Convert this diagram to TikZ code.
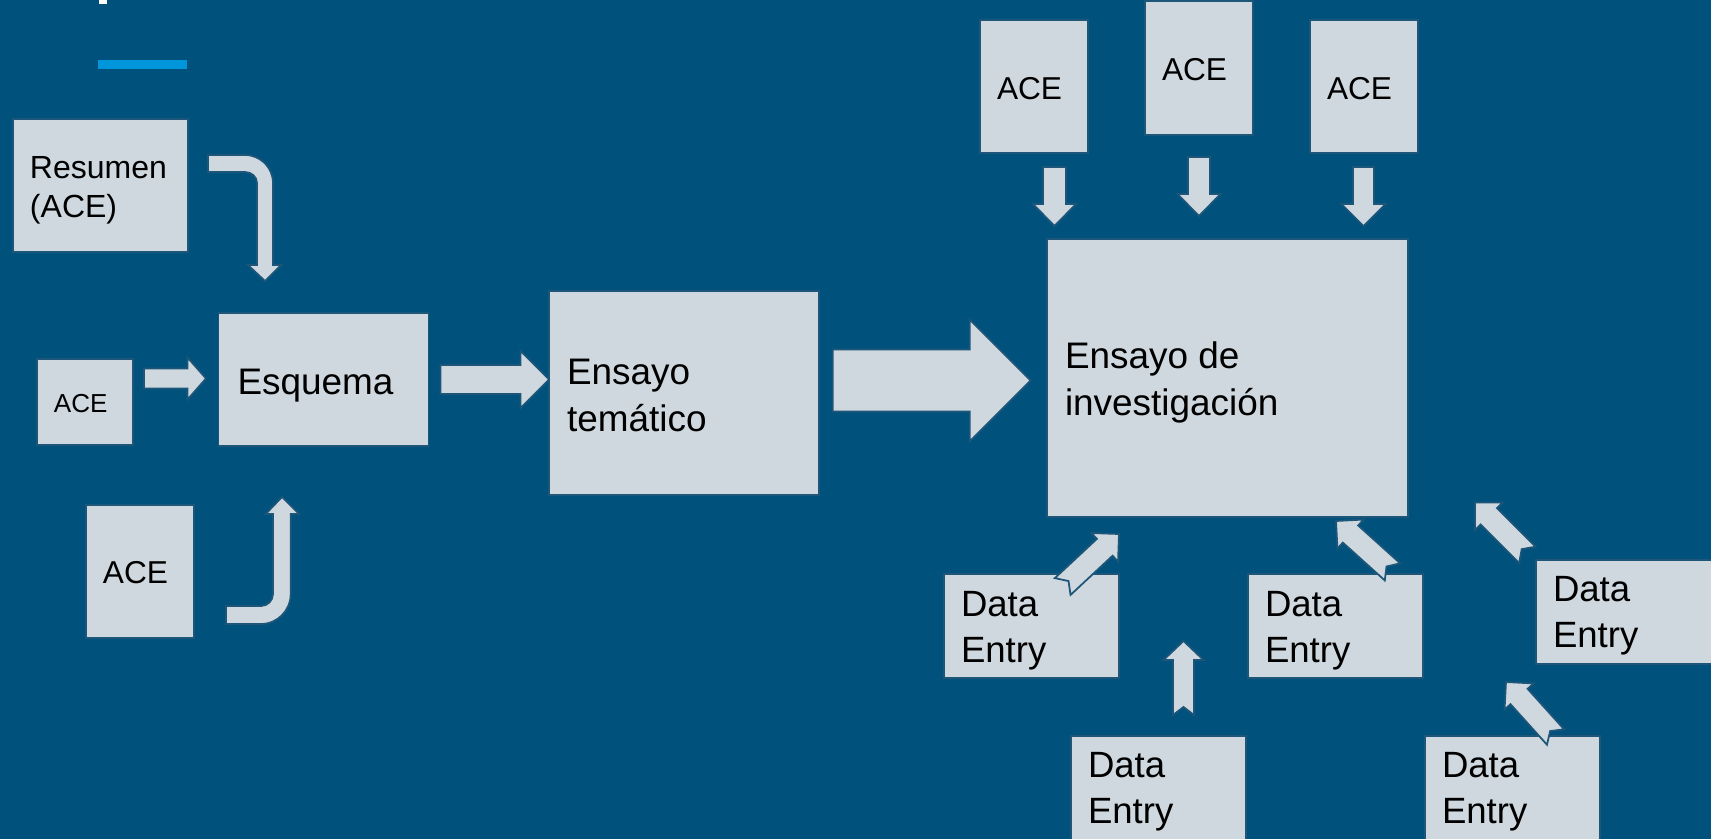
\documentclass[tikz,border=0pt]{standalone}
\usepackage{fontspec}
\setmainfont{Liberation Sans}
\definecolor{bg}{RGB}{0,82,124}
\definecolor{boxfill}{RGB}{207,216,222}
\definecolor{boxedge}{RGB}{30,86,122}
\definecolor{accent}{RGB}{0,150,220}
% tip x, tip y, angle, length, head length, head half width, shaft half width, notch depth
\newcommand\blkarrow[8]{%
  \begin{scope}[shift={(#1,#2)},rotate=#3]
    \filldraw[blk] (0,0) -- (-#5,#6) -- (-#5,#7) -- (-#4,#7) -- ({-#4+#8},0)
      -- (-#4,-#7) -- (-#5,-#7) -- (-#5,-#6) -- cycle;
  \end{scope}}
\begin{document}
\begin{tikzpicture}[x=0.01cm,y=-0.01cm,
  box/.style={draw=boxedge, line width=0.5pt, fill=boxfill, anchor=north west,
    inner sep=0pt, outer sep=0pt},
  blk/.style={draw=boxedge, line width=0.5pt, fill=boxfill},
  lbl/.style={anchor=base west, inner sep=0pt, outer sep=0pt, align=left, text=black},
  big/.style={lbl, font=\fontsize{10.5}{13.1}\selectfont},
  mid/.style={lbl, font=\fontsize{9}{11.1}\selectfont},
  dat/.style={lbl, font=\fontsize{10.4}{12.8}\selectfont},
]
\useasboundingbox (0,0) rectangle (1711,839);
\clip (0,0) rectangle (1711,839);
\fill[bg] (0,0) rectangle (1711,839);
\fill[white] (99,0) rectangle (107,4);
\fill[accent] (98,60) rectangle (187,69);

% boxes
\node[box, minimum width=175*0.01cm, minimum height=133*0.01cm] (res) at (13,119) {};
\node[box, minimum width=96*0.01cm, minimum height=86*0.01cm] (aceL) at (37,359) {};
\node[box, minimum width=210*0.01cm, minimum height=133*0.01cm] (esq) at (218.5,313) {};
\node[box, minimum width=108*0.01cm, minimum height=133*0.01cm] (aceB) at (86,505) {};
\node[box, minimum width=270*0.01cm, minimum height=204*0.01cm] (ens) at (549,291) {};
\node[box, minimum width=361*0.01cm, minimum height=278*0.01cm] (inv) at (1047,239) {};
\node[box, minimum width=108*0.01cm, minimum height=133*0.01cm] (ace1) at (980,20) {};
\node[box, minimum width=108*0.01cm, minimum height=134*0.01cm] (ace2) at (1145,1) {};
\node[box, minimum width=108*0.01cm, minimum height=133*0.01cm] (ace3) at (1310,20) {};
\node[box, minimum width=175*0.01cm, minimum height=104*0.01cm] (de1) at (944,574) {};
\node[box, minimum width=175*0.01cm, minimum height=104*0.01cm] (de2) at (1248,574) {};
\node[box, minimum width=190*0.01cm, minimum height=104*0.01cm] (de3) at (1536,560) {};
\node[box, minimum width=175*0.01cm, minimum height=120*0.01cm] (de4) at (1071,736) {};
\node[box, minimum width=175*0.01cm, minimum height=120*0.01cm] (de5) at (1425,736) {};

% texts (base anchor of a two-line node is the baseline of its last line)
\node[lbl, font=\fontsize{9.1}{11}\selectfont] (res-t) at (30,217) {Resumen\\(ACE)};
\node[lbl, font=\fontsize{7.4}{9}\selectfont] (aceL-t) at (54,412) {ACE};
\node[big] (esq-t) at (237.5,394) {Esquema};
\node[mid] (aceB-t) at (103,583) {ACE};
\node[big] (ens-t) at (567,431) {Ensayo\\temático};
\node[big] (inv-t) at (1065,415) {Ensayo de\\investigación};
\node[mid] (ace1-t) at (997,99.5) {ACE};
\node[mid] (ace2-t) at (1162,80) {ACE};
\node[mid] (ace3-t) at (1327,99.5) {ACE};
\node[dat] (de1-t) at (961,662) {Data\\Entry};
\node[dat] (de2-t) at (1265,662) {Data\\Entry};
\node[dat] (de3-t) at (1553,647) {Data\\Entry};
\node[dat] (de4-t) at (1088,823) {Data\\Entry};
\node[dat] (de5-t) at (1442,823) {Data\\Entry};

% straight block arrows
\blkarrow{206}{378.5}{0}{62}{18.5}{21}{10}{0}
\blkarrow{549}{379.5}{0}{108.5}{28.5}{28.5}{14.5}{0}
\blkarrow{1030.7}{380.5}{0}{198}{61}{61}{31}{0}
\blkarrow{1054.5}{226}{-90}{59}{22}{21.5}{11.5}{0}
\blkarrow{1199}{216}{-90}{59}{22}{21.5}{11}{0}
\blkarrow{1363.5}{226}{-90}{59}{22}{22}{10.5}{0}

% notched block arrows from the data entries
\blkarrow{1119}{534}{43}{77}{19.5}{19.5}{11.5}{8}
\blkarrow{1336}{521}{138}{76}{19.5}{19.5}{11.5}{8}
\blkarrow{1475}{502.5}{135}{74}{19.5}{19.5}{11.5}{8}
\blkarrow{1183.5}{641}{90}{74}{19}{20}{10.5}{8}
\blkarrow{1506}{682}{132}{74}{19.5}{19.5}{11.5}{8}

% bent arrow from Resumen down to Esquema
\filldraw[blk] (208,155) -- (245,155) .. controls (260.5,155) and (273,167.5) .. (273,183)
  -- (273,265) -- (281,265) -- (265,281) -- (248,265) -- (257,265) -- (257,183)
  .. controls (257,176.9) and (251.6,172) .. (245,172) -- (208,172) -- cycle;

% bent arrow from bottom ACE up to Esquema
\filldraw[blk] (226,606) -- (261,606) .. controls (267.6,606) and (273,600.6) .. (273,594)
  -- (273,514) -- (265.7,514) -- (282,497) -- (299,514) -- (290.7,514) -- (290.7,594)
  .. controls (290.7,610.6) and (277.3,624) .. (261,624) -- (226,624) -- cycle;
\end{tikzpicture}
\end{document}
